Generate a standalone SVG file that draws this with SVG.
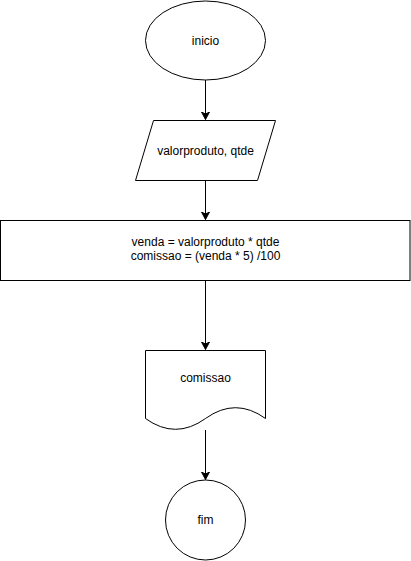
<svg xmlns="http://www.w3.org/2000/svg" width="411" height="561" viewBox="0 0 411 561">
<style>
.shape{fill:#ffffff;stroke:#000000;stroke-width:1}
.lbl{font-family:"Liberation Sans",Arial,sans-serif;font-size:12px;fill:#000000;text-anchor:middle}
.edge{fill:none;stroke:#000000;stroke-width:1}
</style>
<defs>
<marker id="arr" markerUnits="userSpaceOnUse" markerWidth="10" markerHeight="10" viewBox="-8 -5 10 10" refX="0" refY="0" orient="auto">
<path d="M -7.5 -4 L 0 0 L -7.5 4 L -5.5 0 Z" fill="#000000" stroke="#000000" stroke-width="1"/>
</marker>
</defs>
<rect width="411" height="561" fill="#ffffff"/>
<g id="connectors">
<line class="edge" x1="205.5" y1="80" x2="205.5" y2="119.5" marker-end="url(#arr)"/>
<line class="edge" x1="205.5" y1="180" x2="205.5" y2="219.5" marker-end="url(#arr)"/>
<line class="edge" x1="205.5" y1="280" x2="205.5" y2="349.5" marker-end="url(#arr)"/>
<line class="edge" x1="205.5" y1="430" x2="205.5" y2="479.5" marker-end="url(#arr)"/>
</g>
<g id="inicio">
<ellipse class="shape" cx="205.5" cy="40.5" rx="60" ry="39.5"/>
<text class="lbl" x="205.5" y="44.5">inicio</text>
</g>
<g id="entrada">
<polygon class="shape" points="153.5,120.5 275.5,120.5 257.5,180.5 135.5,180.5"/>
<text class="lbl" x="205.5" y="154.5">valorproduto, qtde</text>
</g>
<g id="processo">
<rect class="shape" x="0.5" y="220.5" width="409.5" height="60"/>
<text class="lbl" x="205.5" y="246">venda = valorproduto * qtde</text>
<text class="lbl" x="205.5" y="260">comissao = (venda * 5) /100</text>
</g>
<g id="saida">
<path class="shape" d="M 145.5 350.5 L 265.5 350.5 L 265.5 418.5 Q 235.5 396.9 205.5 418.5 Q 175.5 440.1 145.5 418.5 Z"/>
<text class="lbl" x="205.5" y="382">comissao</text>
</g>
<g id="fim">
<circle class="shape" cx="205.5" cy="520" r="40"/>
<text class="lbl" x="205.5" y="524">fim</text>
</g>
</svg>
